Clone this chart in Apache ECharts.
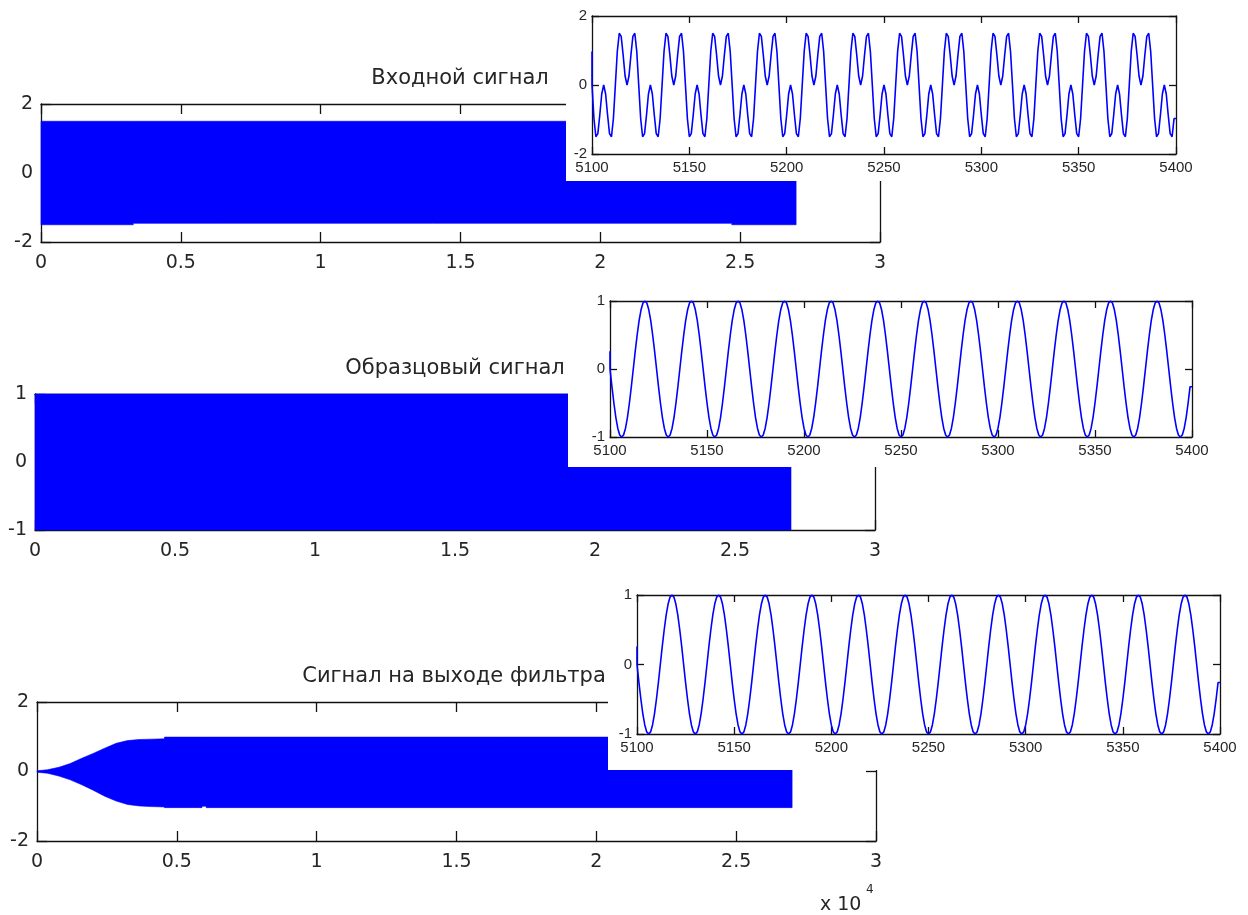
<!DOCTYPE html>
<html>
<head>
<meta charset="utf-8">
<script src="https://cdn.jsdelivr.net/npm/echarts/dist/echarts.min.js"></script>
<style>
html,body{margin:0;padding:0;background:#ffffff;}
#chart{width:1248px;height:915px;}
</style>
</head>
<body>
<div id="chart"></div>
<script>
// ---------------- DATA ----------------
const panelTitles = ['Входной сигнал', 'Образцовый сигнал', 'Сигнал на выходе фильтра'];
const mainXTickLabels = ['0', '0.5', '1', '1.5', '2', '2.5', '3'];
const mainXScaleLabel = 'x 10';
const mainXScaleExp = '4';

// Envelopes of the dense full-length signals (sample index, amplitude)
const inputEnvX     = [0, 3300, 3300, 24700, 24700, 27000];
const inputEnvUpper = [1.5, 1.5, 1.5, 1.5, 1.5, 1.5];
const inputEnvLower = [-1.5, -1.5, -1.46, -1.46, -1.5, -1.5];

const refEnvX     = [0, 27000];
const refEnvUpper = [1, 1];
const refEnvLower = [-1, -1];

const outEnvX     = [0, 370, 780, 1190, 1600, 2010, 2420, 2830, 3240, 3650, 4070, 4560, 4560, 5900, 5900, 6050, 6050, 27000];
const outEnvUpper = [0.02, 0.05, 0.12, 0.23, 0.38, 0.52, 0.67, 0.81, 0.89, 0.92, 0.93, 0.94, 0.99, 0.99, 0.99, 0.99, 0.99, 0.99];
const outEnvLower = [-0.02, -0.05, -0.13, -0.24, -0.38, -0.54, -0.71, -0.85, -0.95, -0.99, -1.01, -1.02, -1.04, -1.04, -1.0, -1.0, -1.04, -1.04];

// Zoomed segment, samples 5100 ... 5400
const insetStartSample = 5100;
const inputSegment = [
0.97,0,-0.97,-1.5,-1.41,-0.87,-0.26,0,-0.26,-0.87,-1.41,-1.5,-0.97,
0,0.97,1.5,1.41,0.87,0.26,0,0.26,0.87,1.41,1.5,0.97,0,-0.97,-1.5,-1.41,-0.87,-0.26,0,-0.26,-0.87,-1.41,-1.5,-0.97,
0,0.97,1.5,1.41,0.87,0.26,0,0.26,0.87,1.41,1.5,0.97,0,-0.97,-1.5,-1.41,-0.87,-0.26,0,-0.26,-0.87,-1.41,-1.5,-0.97,
0,0.97,1.5,1.41,0.87,0.26,0,0.26,0.87,1.41,1.5,0.97,0,-0.97,-1.5,-1.41,-0.87,-0.26,0,-0.26,-0.87,-1.41,-1.5,-0.97,
0,0.97,1.5,1.41,0.87,0.26,0,0.26,0.87,1.41,1.5,0.97,0,-0.97,-1.5,-1.41,-0.87,-0.26,0,-0.26,-0.87,-1.41,-1.5,-0.97,
0,0.97,1.5,1.41,0.87,0.26,0,0.26,0.87,1.41,1.5,0.97,0,-0.97,-1.5,-1.41,-0.87,-0.26,0,-0.26,-0.87,-1.41,-1.5,-0.97,
0,0.97,1.5,1.41,0.87,0.26,0,0.26,0.87,1.41,1.5,0.97,0,-0.97,-1.5,-1.41,-0.87,-0.26,0,-0.26,-0.87,-1.41,-1.5,-0.97,
0,0.97,1.5,1.41,0.87,0.26,0,0.26,0.87,1.41,1.5,0.97,0,-0.97,-1.5,-1.41,-0.87,-0.26,0,-0.26,-0.87,-1.41,-1.5,-0.97,
0,0.97,1.5,1.41,0.87,0.26,0,0.26,0.87,1.41,1.5,0.97,0,-0.97,-1.5,-1.41,-0.87,-0.26,0,-0.26,-0.87,-1.41,-1.5,-0.97,
0,0.97,1.5,1.41,0.87,0.26,0,0.26,0.87,1.41,1.5,0.97,0,-0.97,-1.5,-1.41,-0.87,-0.26,0,-0.26,-0.87,-1.41,-1.5,-0.97,
0,0.97,1.5,1.41,0.87,0.26,0,0.26,0.87,1.41,1.5,0.97,0,-0.97,-1.5,-1.41,-0.87,-0.26,0,-0.26,-0.87,-1.41,-1.5,-0.97,
0,0.97,1.5,1.41,0.87,0.26,0,0.26,0.87,1.41,1.5,0.97,0,-0.97,-1.5,-1.41,-0.87,-0.26,0,-0.26,-0.87,-1.41,-1.5,-0.97,
0,0.97,1.5,1.41,0.87,0.26,0,0.26,0.87,1.41,1.5,0.97,0,-0.97,-1.5,-1.41,-0.87,-0.26,0,-0.26,-0.87,-1.41,-1.5,-0.97
];
const refSegment = [
0.26,0,-0.26,-0.5,-0.71,-0.87,-0.97,-1,-0.97,-0.87,-0.71,-0.5,-0.26,
0,0.26,0.5,0.71,0.87,0.97,1,0.97,0.87,0.71,0.5,0.26,0,-0.26,-0.5,-0.71,-0.87,-0.97,-1,-0.97,-0.87,-0.71,-0.5,-0.26,
0,0.26,0.5,0.71,0.87,0.97,1,0.97,0.87,0.71,0.5,0.26,0,-0.26,-0.5,-0.71,-0.87,-0.97,-1,-0.97,-0.87,-0.71,-0.5,-0.26,
0,0.26,0.5,0.71,0.87,0.97,1,0.97,0.87,0.71,0.5,0.26,0,-0.26,-0.5,-0.71,-0.87,-0.97,-1,-0.97,-0.87,-0.71,-0.5,-0.26,
0,0.26,0.5,0.71,0.87,0.97,1,0.97,0.87,0.71,0.5,0.26,0,-0.26,-0.5,-0.71,-0.87,-0.97,-1,-0.97,-0.87,-0.71,-0.5,-0.26,
0,0.26,0.5,0.71,0.87,0.97,1,0.97,0.87,0.71,0.5,0.26,0,-0.26,-0.5,-0.71,-0.87,-0.97,-1,-0.97,-0.87,-0.71,-0.5,-0.26,
0,0.26,0.5,0.71,0.87,0.97,1,0.97,0.87,0.71,0.5,0.26,0,-0.26,-0.5,-0.71,-0.87,-0.97,-1,-0.97,-0.87,-0.71,-0.5,-0.26,
0,0.26,0.5,0.71,0.87,0.97,1,0.97,0.87,0.71,0.5,0.26,0,-0.26,-0.5,-0.71,-0.87,-0.97,-1,-0.97,-0.87,-0.71,-0.5,-0.26,
0,0.26,0.5,0.71,0.87,0.97,1,0.97,0.87,0.71,0.5,0.26,0,-0.26,-0.5,-0.71,-0.87,-0.97,-1,-0.97,-0.87,-0.71,-0.5,-0.26,
0,0.26,0.5,0.71,0.87,0.97,1,0.97,0.87,0.71,0.5,0.26,0,-0.26,-0.5,-0.71,-0.87,-0.97,-1,-0.97,-0.87,-0.71,-0.5,-0.26,
0,0.26,0.5,0.71,0.87,0.97,1,0.97,0.87,0.71,0.5,0.26,0,-0.26,-0.5,-0.71,-0.87,-0.97,-1,-0.97,-0.87,-0.71,-0.5,-0.26,
0,0.26,0.5,0.71,0.87,0.97,1,0.97,0.87,0.71,0.5,0.26,0,-0.26,-0.5,-0.71,-0.87,-0.97,-1,-0.97,-0.87,-0.71,-0.5,-0.26,
0,0.26,0.5,0.71,0.87,0.97,1,0.97,0.87,0.71,0.5,0.26,0,-0.26,-0.5,-0.71,-0.87,-0.97,-1,-0.97,-0.87,-0.71,-0.5,-0.26
];
const outSegment = [
0.26,0,-0.26,-0.5,-0.71,-0.87,-0.97,-1,-0.97,-0.87,-0.71,-0.5,-0.26,
0,0.26,0.5,0.71,0.87,0.97,1,0.97,0.87,0.71,0.5,0.26,0,-0.26,-0.5,-0.71,-0.87,-0.97,-1,-0.97,-0.87,-0.71,-0.5,-0.26,
0,0.26,0.5,0.71,0.87,0.97,1,0.97,0.87,0.71,0.5,0.26,0,-0.26,-0.5,-0.71,-0.87,-0.97,-1,-0.97,-0.87,-0.71,-0.5,-0.26,
0,0.26,0.5,0.71,0.87,0.97,1,0.97,0.87,0.71,0.5,0.26,0,-0.26,-0.5,-0.71,-0.87,-0.97,-1,-0.97,-0.87,-0.71,-0.5,-0.26,
0,0.26,0.5,0.71,0.87,0.97,1,0.97,0.87,0.71,0.5,0.26,0,-0.26,-0.5,-0.71,-0.87,-0.97,-1,-0.97,-0.87,-0.71,-0.5,-0.26,
0,0.26,0.5,0.71,0.87,0.97,1,0.97,0.87,0.71,0.5,0.26,0,-0.26,-0.5,-0.71,-0.87,-0.97,-1,-0.97,-0.87,-0.71,-0.5,-0.26,
0,0.26,0.5,0.71,0.87,0.97,1,0.97,0.87,0.71,0.5,0.26,0,-0.26,-0.5,-0.71,-0.87,-0.97,-1,-0.97,-0.87,-0.71,-0.5,-0.26,
0,0.26,0.5,0.71,0.87,0.97,1,0.97,0.87,0.71,0.5,0.26,0,-0.26,-0.5,-0.71,-0.87,-0.97,-1,-0.97,-0.87,-0.71,-0.5,-0.26,
0,0.26,0.5,0.71,0.87,0.97,1,0.97,0.87,0.71,0.5,0.26,0,-0.26,-0.5,-0.71,-0.87,-0.97,-1,-0.97,-0.87,-0.71,-0.5,-0.26,
0,0.26,0.5,0.71,0.87,0.97,1,0.97,0.87,0.71,0.5,0.26,0,-0.26,-0.5,-0.71,-0.87,-0.97,-1,-0.97,-0.87,-0.71,-0.5,-0.26,
0,0.26,0.5,0.71,0.87,0.97,1,0.97,0.87,0.71,0.5,0.26,0,-0.26,-0.5,-0.71,-0.87,-0.97,-1,-0.97,-0.87,-0.71,-0.5,-0.26,
0,0.26,0.5,0.71,0.87,0.97,1,0.97,0.87,0.71,0.5,0.26,0,-0.26,-0.5,-0.71,-0.87,-0.97,-1,-0.97,-0.87,-0.71,-0.5,-0.26,
0,0.26,0.5,0.71,0.87,0.97,1,0.97,0.87,0.71,0.5,0.26,0,-0.26,-0.5,-0.71,-0.87,-0.97,-1,-0.97,-0.87,-0.71,-0.5,-0.26
];

// ---------------- LAYOUT / STYLE ----------------
const BLUE = '#0000ff';
const AXIS_COLOR = '#111111';
const MAIN_FONT = 'DejaVu Sans';
const INSET_FONT = 'Liberation Sans';
const TEXT_COLOR = '#262626';

const mainGrids = [
  {left: 41, top: 104, width: 839, height: 138, yMin: -2, yMax: 2, yInt: 2},
  {left: 35, top: 394, width: 840, height: 136, yMin: -1, yMax: 1, yInt: 1},
  {left: 37, top: 702, width: 839, height: 139, yMin: -2, yMax: 2, yInt: 2}
];
const insetGrids = [
  {left: 592, top: 16, width: 584, height: 138, yMin: -2, yMax: 2, yInt: 2},
  {left: 610, top: 301, width: 582, height: 136, yMin: -1, yMax: 1, yInt: 1},
  {left: 637, top: 595, width: 583, height: 139, yMin: -1, yMax: 1, yInt: 1}
];
const insetCovers = [
  {x: 566, y: 0, w: 682, h: 181},
  {x: 568, y: 283, w: 680, h: 184},
  {x: 608, y: 578, w: 640, h: 192}
];
const titlePos = [{x: 460, y: 68}, {x: 455, y: 358}, {x: 454, y: 666}];

const grid = [], xAxis = [], yAxis = [], series = [];

function addAxes(g, isInset) {
  const gi = grid.length;
  grid.push({left: g.left, top: g.top, width: g.width, height: g.height, containLabel: false,
             zlevel: isInset ? 1 : 0});
  const zl = isInset ? 1 : 0;
  const zz = isInset ? 5 : 0;
  const tickLen = isInset ? 7 : 10;
  const lineStyle = {color: AXIS_COLOR, width: 1.3};
  const xMin = isInset ? insetStartSample : 0;
  const xMax = isInset ? insetStartSample + 300 : 30000;
  const xInt = isInset ? 50 : 5000;
  const xLabel = isInset
    ? {show: true, fontFamily: INSET_FONT, fontSize: 15, color: TEXT_COLOR, margin: 6,
       formatter: v => String(v)}
    : {show: true, fontFamily: MAIN_FONT, fontSize: 19, color: TEXT_COLOR, margin: 12,
       formatter: v => mainXTickLabels[Math.round(v / 5000)]};
  const yLabel = isInset
    ? {show: true, fontFamily: INSET_FONT, fontSize: 15, color: TEXT_COLOR, margin: 5}
    : {show: true, fontFamily: MAIN_FONT, fontSize: 19, color: TEXT_COLOR, margin: 8};
  ['bottom', 'top'].forEach((pos, i) => {
    xAxis.push({gridIndex: gi, type: 'value', position: pos, min: xMin, max: xMax, interval: xInt,
      zlevel: zl, z: zz,
      axisLine: {show: true, onZero: false, lineStyle},
      axisTick: {show: true, inside: true, length: tickLen, lineStyle},
      axisLabel: i === 0 ? xLabel : {show: false},
      splitLine: {show: false}});
  });
  ['left', 'right'].forEach((pos, i) => {
    yAxis.push({gridIndex: gi, type: 'value', position: pos, min: g.yMin, max: g.yMax, interval: g.yInt,
      zlevel: zl, z: zz,
      axisLine: {show: true, onZero: false, lineStyle},
      axisTick: {show: true, inside: true, length: tickLen, lineStyle},
      axisLabel: i === 0 ? yLabel : {show: false},
      splitLine: {show: false}});
  });
  return {xIdx: gi * 2, yIdx: gi * 2};
}

const envelopes = [
  [inputEnvX, inputEnvUpper, inputEnvLower],
  [refEnvX, refEnvUpper, refEnvLower],
  [outEnvX, outEnvUpper, outEnvLower]
];
const segments = [inputSegment, refSegment, outSegment];

mainGrids.forEach((g, p) => {
  const ax = addAxes(g, false);
  const [ex, eu, el] = envelopes[p];
  series.push({type: 'custom', xAxisIndex: ax.xIdx, yAxisIndex: ax.yIdx,
    coordinateSystem: 'cartesian2d',
    data: ex.map((x, i) => [x, eu[i], el[i]]),
    encode: {x: 0, y: [1, 2]},
    animation: false, silent: true, z: 2,
    renderItem: (params, api) => {
      if (params.dataIndex !== 0) return null;
      const pts = [];
      for (let i = 0; i < ex.length; i++) pts.push(api.coord([ex[i], eu[i]]));
      for (let i = ex.length - 1; i >= 0; i--) pts.push(api.coord([ex[i], el[i]]));
      return {type: 'polygon', shape: {points: pts},
              style: {fill: BLUE, stroke: BLUE, lineWidth: 0.6}};
    }});
});

insetGrids.forEach((g, p) => {
  const ax = addAxes(g, true);
  series.push({type: 'line', xAxisIndex: ax.xIdx, yAxisIndex: ax.yIdx,
    data: segments[p].map((v, i) => [insetStartSample + i, v]),
    step: 'start', symbol: 'none', animation: false, silent: true,
    zlevel: 1, z: 6,
    lineStyle: {color: BLUE, width: 1.6}});
});

const graphic = insetCovers.map(c => ({type: 'rect', zlevel: 1, z: 0, silent: true,
  shape: {x: c.x, y: c.y, width: c.w, height: c.h}, style: {fill: '#ffffff'}}));
graphic.push({type: 'text', left: 820, top: 896, silent: true,
  style: {text: mainXScaleLabel, font: '19px "DejaVu Sans"', fill: TEXT_COLOR}});
graphic.push({type: 'text', left: 866, top: 884, silent: true,
  style: {text: mainXScaleExp, font: '12px "DejaVu Sans"', fill: TEXT_COLOR}});

const title = panelTitles.map((t, i) => ({text: t, left: titlePos[i].x, top: titlePos[i].y,
  textAlign: 'center', padding: 0,
  textStyle: {fontFamily: MAIN_FONT, fontSize: 21, fontWeight: 'normal', color: TEXT_COLOR}}));

const chart = echarts.init(document.getElementById('chart'), null, {renderer: 'canvas'});
chart.setOption({animation: false, backgroundColor: '#ffffff', title, grid, xAxis, yAxis, series, graphic});
</script>
</body>
</html>
